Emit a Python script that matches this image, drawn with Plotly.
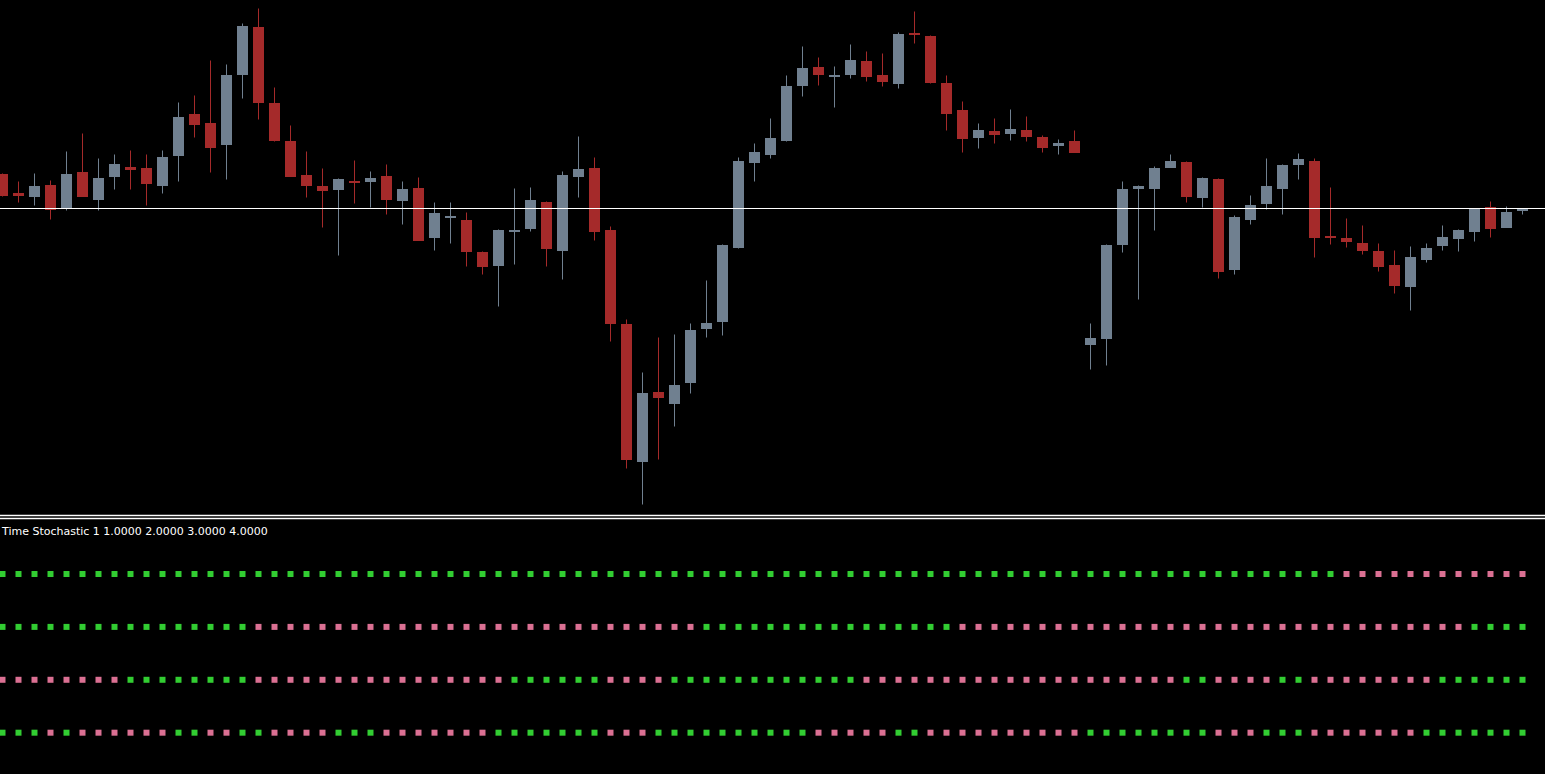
import plotly.graph_objects as go

# OHLC per bar (96 bars, oldest first)
opens = [
    1.1127, 1.1108, 1.1104, 1.1116, 1.1093, 1.1129, 1.1101, 1.1124,
    1.1134, 1.1133, 1.1115, 1.1145, 1.1187, 1.1178, 1.1156, 1.1226,
    1.1274, 1.1198, 1.1160, 1.1126, 1.1115, 1.1111, 1.1120, 1.1119,
    1.1125, 1.1100, 1.1113, 1.1063, 1.1083, 1.1081, 1.1049, 1.1035,
    1.1069, 1.1072, 1.1099, 1.1050, 1.1124, 1.1133, 1.1071, 1.0977,
    1.0839, 1.0909, 1.0897, 1.0918, 1.0972, 1.0979, 1.1053, 1.1138,
    1.1146, 1.1160, 1.1215, 1.1234, 1.1224, 1.1226, 1.1240, 1.1226,
    1.1217, 1.1268, 1.1265, 1.1218, 1.1191, 1.1163, 1.1170, 1.1167,
    1.1171, 1.1164, 1.1155, 1.1160, 1.0956, 1.0962, 1.1056, 1.1112,
    1.1112, 1.1133, 1.1139, 1.1103, 1.1122, 1.1031, 1.1081, 1.1097,
    1.1112, 1.1136, 1.1140, 1.1065, 1.1063, 1.1058, 1.1050, 1.1036,
    1.1014, 1.1041, 1.1055, 1.1062, 1.1069, 1.1094, 1.1073, 1.1090,
]
highs = [
    1.1127, 1.1119, 1.1127, 1.1120, 1.1149, 1.1167, 1.1142, 1.1146,
    1.1150, 1.1146, 1.1150, 1.1198, 1.1205, 1.1240, 1.1236, 1.1277,
    1.1292, 1.1213, 1.1175, 1.1149, 1.1132, 1.1122, 1.1140, 1.1129,
    1.1136, 1.1119, 1.1123, 1.1098, 1.1098, 1.1088, 1.1049, 1.1071,
    1.1112, 1.1113, 1.1099, 1.1129, 1.1164, 1.1143, 1.1074, 1.0981,
    1.0928, 1.0963, 1.0966, 1.0977, 1.1020, 1.1056, 1.1143, 1.1157,
    1.1182, 1.1225, 1.1254, 1.1243, 1.1234, 1.1256, 1.1249, 1.1247,
    1.1268, 1.1289, 1.1265, 1.1225, 1.1199, 1.1177, 1.1182, 1.1191,
    1.1184, 1.1165, 1.1161, 1.1170, 1.0977, 1.1056, 1.1119, 1.1115,
    1.1134, 1.1146, 1.1139, 1.1123, 1.1122, 1.1085, 1.1105, 1.1142,
    1.1136, 1.1147, 1.1142, 1.1113, 1.1082, 1.1075, 1.1057, 1.1050,
    1.1054, 1.1057, 1.1075, 1.1071, 1.1092, 1.1099, 1.1094, 1.1092,
]
lows = [
    1.1104, 1.1098, 1.1095, 1.1081, 1.1090, 1.1104, 1.1090, 1.1111,
    1.1111, 1.1095, 1.1107, 1.1119, 1.1163, 1.1128, 1.1121, 1.1202,
    1.1181, 1.1159, 1.1124, 1.1103, 1.1073, 1.1045, 1.1097, 1.1093,
    1.1086, 1.1076, 1.1060, 1.1050, 1.1057, 1.1034, 1.1026, 1.0994,
    1.1036, 1.1069, 1.1034, 1.1021, 1.1103, 1.1060, 1.0959, 1.0832,
    1.0796, 1.0841, 1.0874, 1.0907, 1.0963, 1.0965, 1.1052, 1.1119,
    1.1142, 1.1159, 1.1204, 1.1215, 1.1193, 1.1222, 1.1219, 1.1214,
    1.1212, 1.1257, 1.1217, 1.1170, 1.1148, 1.1152, 1.1157, 1.1160,
    1.1159, 1.1148, 1.1146, 1.1148, 1.0931, 1.0935, 1.1048, 1.1001,
    1.1070, 1.1133, 1.1098, 1.1093, 1.1022, 1.1026, 1.1076, 1.1091,
    1.1086, 1.1121, 1.1043, 1.1056, 1.1053, 1.1046, 1.1029, 1.1007,
    1.0990, 1.1038, 1.1050, 1.1049, 1.1059, 1.1063, 1.1073, 1.1086,
]
closes = [
    1.1105, 1.1105, 1.1115, 1.1091, 1.1127, 1.1104, 1.1123, 1.1137,
    1.1131, 1.1117, 1.1144, 1.1184, 1.1176, 1.1153, 1.1226, 1.1275,
    1.1198, 1.1160, 1.1124, 1.1115, 1.1110, 1.1122, 1.1118, 1.1123,
    1.1101, 1.1112, 1.1060, 1.1088, 1.1085, 1.1049, 1.1034, 1.1071,
    1.1071, 1.1101, 1.1052, 1.1126, 1.1132, 1.1069, 1.0977, 1.0841,
    1.0908, 1.0903, 1.0916, 1.0971, 1.0978, 1.1056, 1.1140, 1.1149,
    1.1163, 1.1215, 1.1233, 1.1226, 1.1226, 1.1241, 1.1224, 1.1219,
    1.1267, 1.1266, 1.1218, 1.1187, 1.1162, 1.1171, 1.1166, 1.1172,
    1.1164, 1.1153, 1.1158, 1.1148, 1.0963, 1.1056, 1.1112, 1.1115,
    1.1133, 1.1140, 1.1104, 1.1123, 1.1029, 1.1084, 1.1096, 1.1115,
    1.1136, 1.1142, 1.1063, 1.1063, 1.1059, 1.1050, 1.1034, 1.1015,
    1.1044, 1.1053, 1.1064, 1.1071, 1.1092, 1.1072, 1.1089, 1.1092,
]

bid_level = 1.1092

# indicator buffers: G = green dot, P = pink dot, one char per bar
levels = [4, 3, 2, 1]
states = {
    4: "GGGGGGGGGGGGGGGG" "GGGGGGGGGGGGGGGG" "GGGGGGGGGGGGGGGG"
       "GGGGGGGGGGGGGGGG" "GGGGGGGGGGGGGGGG" "GGGGPPPPPPPPPPPP",
    3: "GGGGGGGGGGGGGGGG" "PPPPPPPPPPPPPPPP" "PPPPPPPPPPPPGGGG"
       "GGGGGGGGGGGGPPPP" "PPPPPPPPPPPPPPPP" "PPPPPPPPPPPPGGGG",
    2: "PPPPPPPPGGGGGGGG" "PPPPPPPPPPPPPPPP" "GGGGGGPPPPGGGGGG"
       "GGGGGGPPPPPPPPPP" "PPPPPPPPPPGGPPPP" "GGPPPPPPPPGGGGGG",
    1: "GGGPGPPPPPPGGPPG" "GPPPPGGGPPPPPPPG" "GGGGGGPPPGGGGGGG"
       "GGGPPPPPGGPPPPPP" "PPPPGGGGGGGGPPPG" "GGPPPPPPPGGGGGGG",
}
title_text = "Time Stochastic 1 1.0000 2.0000 3.0000 4.0000"

BULL = "#708090"
BEAR = "#A52A2A"
DOT = {"G": "#32CD32", "P": "#DB7093"}

bars = list(range(len(opens)))
fig = go.Figure()

# wicks + bodies, bull then bear
for is_bull, colour in [(True, BULL), (False, BEAR)]:
    idx = [i for i in bars if (closes[i] > opens[i]) == is_bull]
    wx, wy = [], []
    for i in idx:
        wx += [i, i, None]
        wy += [lows[i], highs[i], None]
    fig.add_trace(go.Scatter(x=wx, y=wy, mode="lines",
                             line=dict(color=colour, width=1),
                             hoverinfo="skip", showlegend=False))
    fig.add_trace(go.Bar(x=idx,
                         y=[abs(closes[i] - opens[i]) for i in idx],
                         base=[min(opens[i], closes[i]) for i in idx],
                         width=0.69, marker=dict(color=colour, line_width=0),
                         showlegend=False))

for lv in levels:
    fig.add_trace(go.Scatter(x=bars, y=[lv] * len(bars), mode="markers",
                             marker=dict(symbol="square", size=6,
                                         color=[DOT[s] for s in states[lv]]),
                             xaxis="x2", yaxis="y2", showlegend=False))

H = 774.0
axis_off = dict(visible=False, showgrid=False, zeroline=False)
fig.update_layout(
    width=1545, height=774,
    margin=dict(l=0, r=0, t=0, b=0, pad=0),
    paper_bgcolor="black", plot_bgcolor="black",
    barmode="overlay", bargap=0,
    xaxis=dict(range=[-0.15625, 96.40625], anchor="y", **axis_off),
    yaxis=dict(range=[1.07855, 1.13005], domain=[1 - 515 / H, 1], **axis_off),
    xaxis2=dict(range=[-0.15625, 96.40625], anchor="y2", matches="x", **axis_off),
    yaxis2=dict(range=[0.219, 5.021], domain=[0, 1 - 520 / H], **axis_off),
    font=dict(family="DejaVu Sans", color="white"),
)

# bid line and panel separator
fig.add_shape(type="line", xref="paper", yref="y", x0=0, x1=1,
              y0=bid_level, y1=bid_level, line=dict(color="white", width=1))
for py in [515.5, 518.5]:
    fig.add_shape(type="line", xref="paper", yref="paper", x0=0, x1=1,
                  y0=1 - py / H, y1=1 - py / H,
                  line=dict(color="white", width=1.3))

fig.add_annotation(text=title_text, xref="paper", yref="paper",
                   x=0, y=1 - 531 / H, xanchor="left", yanchor="middle",
                   showarrow=False, borderpad=0,
                   font=dict(family="DejaVu Sans", size=11, color="white"))

fig.write_html("out.html", config={"displayModeBar": False},
               post_script="document.body.style.margin='0';"
                           "document.body.style.background='black';")
